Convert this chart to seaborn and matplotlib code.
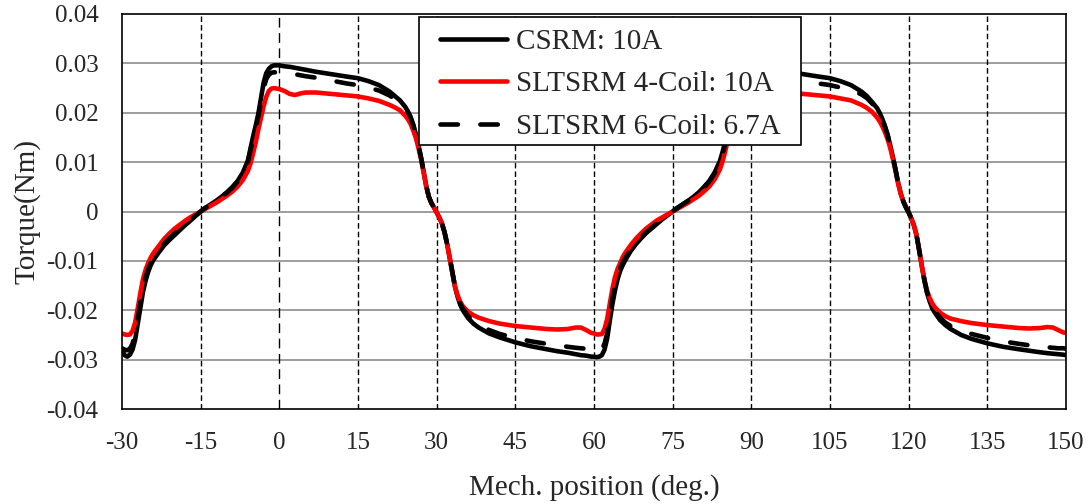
import pandas as pd
import seaborn as sns
import matplotlib.pyplot as plt
import matplotlib.ticker as ticker
from matplotlib.lines import Line2D
from matplotlib.patches import Rectangle

# Mech. position (deg.)
position = [
    -30, -29.5, -29, -28.5, -28, -27.5, -27, -26.5, -26, -25.5, -25, -24.5, -24,
    -23, -22, -21, -20, -19, -18, -17, -16, -15, -14, -13, -12, -11, -10, -9, -8, -7, -6,
    -5.5, -5, -4.5, -4, -3.5, -3, -2.5, -2, -1.5, -1,
    0, 1, 2, 3, 4, 5,
    7, 10, 13, 15, 17, 19, 21, 22, 23, 24,
    24.5, 25, 25.5, 26, 26.5, 27, 27.5, 28, 28.5, 29, 29.5, 30, 30.5, 31, 31.5, 32,
    32.5, 33, 33.5, 34, 34.5, 35,
    36, 37, 38, 40, 42, 45, 48, 51, 53, 55,
    56.5, 57.5, 58.5, 59.5,
    60, 60.5, 61, 61.5, 62, 62.5, 63, 63.5, 64, 64.5, 65, 65.5, 66,
    67, 68, 69, 70, 71, 72, 73, 74, 75, 76, 77, 78, 79, 80, 81, 82, 83, 84,
    84.5, 85, 85.5, 86, 86.5, 87, 87.5, 88, 88.5, 89,
    90, 91, 92, 93, 94, 95,
    97, 100, 103, 105, 107, 109, 111, 112, 113, 114,
    114.5, 115, 115.5, 116, 116.5, 117, 117.5, 118, 118.5, 119, 119.5, 120, 120.5, 121,
    121.5, 122, 122.5, 123, 123.5, 124, 124.5, 125,
    126, 127, 128, 130, 132, 135, 138, 141, 143, 145,
    146.5, 147.5, 148.5, 149.5, 150,
]

# Torque (Nm)
csrm_10a = [
    -0.0281, -0.0291, -0.0294, -0.0290, -0.0280, -0.0260, -0.0228, -0.0195, -0.0163, -0.0140, -0.0122, -0.0108, -0.0098,
    -0.0083, -0.0069, -0.0058, -0.0048, -0.0038, -0.0028, -0.0019, -0.0009, 0.0000, 0.0008, 0.0015, 0.0022, 0.0030, 0.0039, 0.0049, 0.0061, 0.0078, 0.0103,
    0.0128, 0.0152, 0.0174, 0.0198, 0.0230, 0.0261, 0.0280, 0.0289, 0.0294, 0.0296,
    0.0296, 0.0294, 0.0293, 0.0291, 0.0289, 0.0287,
    0.0283, 0.0278, 0.0273, 0.0270, 0.0264, 0.0256, 0.0243, 0.0234, 0.0225, 0.0212,
    0.0203, 0.0192, 0.0177, 0.0158, 0.0136, 0.0110, 0.0082, 0.0052, 0.0030, 0.0017, 0.0008, -0.0002, -0.0012, -0.0024, -0.0042, -0.0066,
    -0.0095, -0.0125, -0.0153, -0.0173, -0.0189, -0.0200,
    -0.0216, -0.0227, -0.0235, -0.0247, -0.0255, -0.0265, -0.0273, -0.0279, -0.0283, -0.0286,
    -0.0289, -0.0291, -0.0292, -0.0294,
    -0.0294, -0.0295, -0.0294, -0.0291, -0.0280, -0.0258, -0.0222, -0.0188, -0.0160, -0.0137, -0.0120, -0.0108, -0.0098,
    -0.0080, -0.0066, -0.0054, -0.0043, -0.0034, -0.0025, -0.0016, -0.0008, 0.0000, 0.0008, 0.0015, 0.0022, 0.0030, 0.0039, 0.0050, 0.0062, 0.0079, 0.0102,
    0.0120, 0.0140, 0.0162, 0.0185, 0.0212, 0.0245, 0.0272, 0.0287, 0.0293, 0.0296,
    0.0296, 0.0294, 0.0293, 0.0291, 0.0289, 0.0287,
    0.0283, 0.0278, 0.0273, 0.0270, 0.0264, 0.0256, 0.0243, 0.0234, 0.0222, 0.0209,
    0.0199, 0.0187, 0.0172, 0.0155, 0.0133, 0.0110, 0.0085, 0.0058, 0.0036, 0.0020, 0.0008, -0.0002, -0.0014, -0.0028,
    -0.0048, -0.0078, -0.0110, -0.0140, -0.0165, -0.0182, -0.0196, -0.0205,
    -0.0220, -0.0230, -0.0238, -0.0250, -0.0258, -0.0267, -0.0274, -0.0279, -0.0282, -0.0285,
    -0.0287, -0.0288, -0.0289, -0.0290, -0.0291,
]

sltsrm_4coil_10a = [
    -0.0247, -0.0249, -0.0250, -0.0249, -0.0242, -0.0225, -0.0196, -0.0165, -0.0137, -0.0118, -0.0104, -0.0093, -0.0084,
    -0.0070, -0.0056, -0.0045, -0.0035, -0.0027, -0.0019, -0.0012, -0.0006, 0.0000, 0.0006, 0.0012, 0.0018, 0.0025, 0.0032, 0.0040, 0.0050, 0.0063, 0.0082,
    0.0097, 0.0118, 0.0140, 0.0166, 0.0190, 0.0213, 0.0232, 0.0244, 0.0249, 0.0250,
    0.0248, 0.0244, 0.0238, 0.0236, 0.0239, 0.0241,
    0.0241, 0.0238, 0.0235, 0.0233, 0.0229, 0.0224, 0.0216, 0.0211, 0.0205, 0.0194,
    0.0187, 0.0178, 0.0165, 0.0150, 0.0130, 0.0107, 0.0080, 0.0052, 0.0030, 0.0017, 0.0008, -0.0002, -0.0012, -0.0024, -0.0042, -0.0066,
    -0.0095, -0.0125, -0.0152, -0.0170, -0.0183, -0.0192,
    -0.0203, -0.0210, -0.0215, -0.0222, -0.0227, -0.0232, -0.0235, -0.0238, -0.0239, -0.0238,
    -0.0235, -0.0235, -0.0240, -0.0246,
    -0.0247, -0.0249, -0.0249, -0.0248, -0.0238, -0.0218, -0.0188, -0.0157, -0.0133, -0.0116, -0.0104, -0.0092, -0.0083,
    -0.0068, -0.0055, -0.0044, -0.0034, -0.0026, -0.0018, -0.0012, -0.0006, 0.0000, 0.0006, 0.0012, 0.0018, 0.0025, 0.0032, 0.0041, 0.0051, 0.0065, 0.0085,
    0.0101, 0.0121, 0.0143, 0.0168, 0.0192, 0.0215, 0.0233, 0.0244, 0.0249, 0.0250,
    0.0248, 0.0244, 0.0238, 0.0236, 0.0239, 0.0241,
    0.0241, 0.0238, 0.0235, 0.0233, 0.0229, 0.0225, 0.0216, 0.0210, 0.0202, 0.0190,
    0.0182, 0.0172, 0.0160, 0.0146, 0.0128, 0.0106, 0.0082, 0.0056, 0.0035, 0.0020, 0.0008, -0.0002, -0.0014, -0.0028,
    -0.0048, -0.0078, -0.0110, -0.0138, -0.0160, -0.0175, -0.0186, -0.0194,
    -0.0205, -0.0212, -0.0217, -0.0222, -0.0226, -0.0230, -0.0233, -0.0236, -0.0237, -0.0236,
    -0.0234, -0.0235, -0.0240, -0.0245, -0.0246,
]

sltsrm_6coil_67a = [
    -0.0277, -0.0280, -0.0281, -0.0278, -0.0268, -0.0248, -0.0218, -0.0185, -0.0155, -0.0133, -0.0117, -0.0104, -0.0094,
    -0.0079, -0.0066, -0.0055, -0.0045, -0.0036, -0.0027, -0.0018, -0.0009, 0.0000, 0.0008, 0.0015, 0.0022, 0.0030, 0.0038, 0.0048, 0.0060, 0.0076, 0.0100,
    0.0124, 0.0148, 0.0170, 0.0193, 0.0222, 0.0250, 0.0268, 0.0277, 0.0281, 0.0282,
    0.0281, 0.0280, 0.0279, 0.0278, 0.0276, 0.0274,
    0.0271, 0.0265, 0.0259, 0.0256, 0.0251, 0.0245, 0.0235, 0.0228, 0.0220, 0.0209,
    0.0201, 0.0191, 0.0176, 0.0157, 0.0135, 0.0110, 0.0082, 0.0052, 0.0030, 0.0017, 0.0008, -0.0002, -0.0012, -0.0024, -0.0042, -0.0066,
    -0.0095, -0.0125, -0.0152, -0.0172, -0.0187, -0.0197,
    -0.0212, -0.0222, -0.0229, -0.0240, -0.0248, -0.0256, -0.0263, -0.0268, -0.0271, -0.0274,
    -0.0276, -0.0277, -0.0278, -0.0279,
    -0.0280, -0.0281, -0.0281, -0.0279, -0.0268, -0.0247, -0.0212, -0.0178, -0.0151, -0.0130, -0.0115, -0.0103, -0.0094,
    -0.0077, -0.0063, -0.0052, -0.0042, -0.0033, -0.0024, -0.0016, -0.0008, 0.0000, 0.0008, 0.0015, 0.0022, 0.0030, 0.0038, 0.0049, 0.0061, 0.0077, 0.0099,
    0.0116, 0.0136, 0.0158, 0.0180, 0.0205, 0.0235, 0.0260, 0.0274, 0.0280, 0.0282,
    0.0281, 0.0280, 0.0279, 0.0278, 0.0276, 0.0274,
    0.0271, 0.0265, 0.0259, 0.0256, 0.0251, 0.0247, 0.0237, 0.0230, 0.0219, 0.0207,
    0.0198, 0.0186, 0.0171, 0.0154, 0.0132, 0.0109, 0.0084, 0.0057, 0.0036, 0.0020, 0.0008, -0.0002, -0.0014, -0.0028,
    -0.0048, -0.0078, -0.0110, -0.0139, -0.0163, -0.0179, -0.0192, -0.0201,
    -0.0215, -0.0225, -0.0232, -0.0241, -0.0248, -0.0256, -0.0263, -0.0268, -0.0271, -0.0273,
    -0.0275, -0.0276, -0.0277, -0.0277, -0.0278,
]

labels = ["CSRM: 10A", "SLTSRM 4-Coil: 10A", "SLTSRM 6-Coil: 6.7A"]
x_ticks = list(range(-30, 151, 15))
y_ticks = [-0.04, -0.03, -0.02, -0.01, 0.0, 0.01, 0.02, 0.03, 0.04]

df = pd.DataFrame({"pos": position, "csrm": csrm_10a,
                   "c4": sltsrm_4coil_10a, "c6": sltsrm_6coil_67a})

sns.set_style("white")
plt.rcParams['font.family'] = ['Liberation Serif', 'DejaVu Serif']

fig = plt.figure(figsize=(10.92, 5.04), dpi=100)
ax = fig.add_axes([122 / 1092, 95 / 504, 944 / 1092, 395 / 504])

# grid: solid gray horizontals, dashed black verticals
for yv in y_ticks[1:-1]:
    ax.axhline(yv, color='#8c8c8c', lw=1.2, zorder=1)
for xv in x_ticks[1:-1]:
    if xv == 0:
        ax.axvline(xv, color='black', lw=1.0, dashes=(7, 4), zorder=1)
    else:
        ax.axvline(xv, color='black', lw=1.0, dashes=(4, 2.2), zorder=1)

sns.lineplot(data=df, x="pos", y="csrm", ax=ax, color='black', lw=3.3,
             sort=False, estimator=None, zorder=3)
sns.lineplot(data=df, x="pos", y="c4", ax=ax, color='#ff0000', lw=3.3,
             sort=False, estimator=None, zorder=4)
sns.lineplot(data=df, x="pos", y="c6", ax=ax, color='black', lw=3.3,
             sort=False, estimator=None, zorder=5)
dash_line = ax.lines[-1]
dash_line.set_dashes((3.8, 4.9))
dash_line.set_dash_capstyle('round')
for ln in ax.lines[-3:-1]:
    ln.set_solid_capstyle('round')

ax.set_xlim(-30, 150)
ax.set_ylim(-0.04, 0.04)
ax.xaxis.set_major_locator(ticker.FixedLocator(x_ticks))
ax.yaxis.set_major_locator(ticker.FixedLocator(y_ticks))
ax.xaxis.set_major_formatter(ticker.FuncFormatter(lambda v, p: str(int(round(v)))))
ax.yaxis.set_major_formatter(ticker.FuncFormatter(
    lambda v, p: '0' if abs(v) < 1e-9 else '{:.2f}'.format(v)))
ax.tick_params(axis='x', length=0, pad=16.5, labelsize=18)
ax.tick_params(axis='y', length=0, pad=17, labelsize=18)

for sp in ax.spines.values():
    sp.set_color('black')
    sp.set_linewidth(1.2)
    sp.set_zorder(6)

ax.set_xlabel("Mech. position (deg.)", fontsize=21, labelpad=14.5)
ax.set_ylabel("Torque(Nm)", fontsize=21, labelpad=4)

# legend box drawn separately so the padding can match the reference
box = Rectangle((0.3146, 0.668), 0.4047, 0.324, transform=ax.transAxes,
                facecolor='white', edgecolor='black', lw=1.2, zorder=9)
ax.add_patch(box)

handles = [
    Line2D([], [], color='black', lw=3.3, solid_capstyle='round'),
    Line2D([], [], color='#ff0000', lw=3.3, solid_capstyle='round'),
    Line2D([], [], color='black', lw=3.3, dashes=(3.8, 4.9), dash_capstyle='round'),
]
leg = ax.legend(handles, labels, loc='upper left', bbox_to_anchor=(0.3369, 0.9633),
                borderaxespad=0, borderpad=0, fontsize=21, frameon=False,
                handlelength=2.28, handletextpad=0.31, labelspacing=0.55)
leg.set_zorder(10)

plt.savefig("out.png", dpi=100)
